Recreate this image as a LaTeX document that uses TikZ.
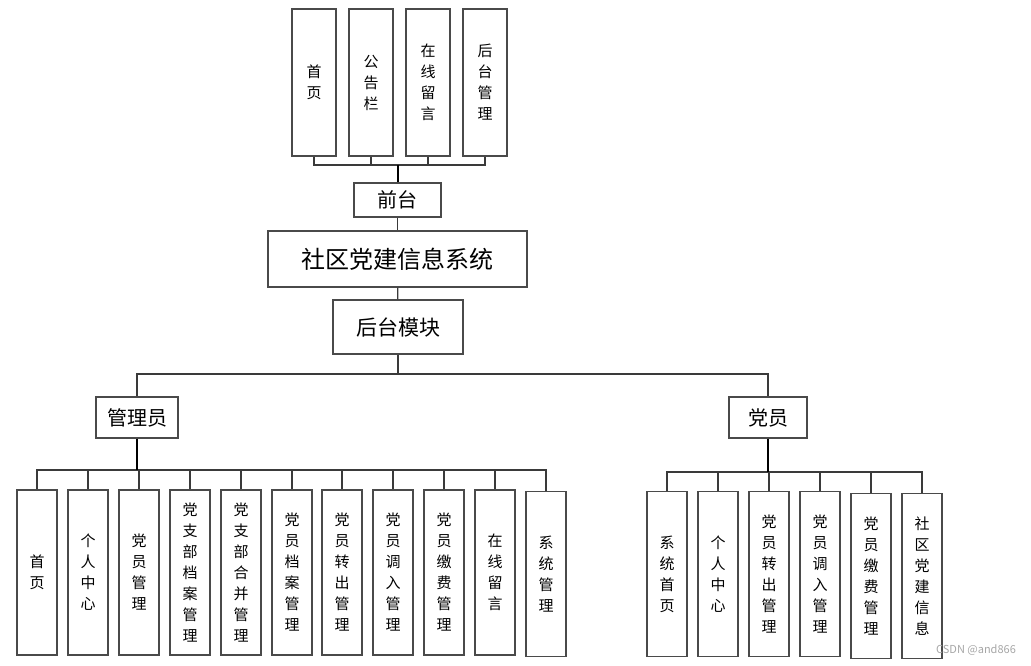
\documentclass[tikz,border=0pt]{standalone}
\usepackage{fontspec}
\setmainfont{Noto Sans CJK SC}
\usetikzlibrary{positioning}
\usepackage{xcolor}
\definecolor{boxline}{HTML}{4A4A4A}
\definecolor{wireline}{HTML}{3A3A3A}

\begin{document}
\begin{tikzpicture}[
  x=1pt, y=-1pt,
  box/.style={draw=boxline, line width=1.4pt, fill=white, inner sep=0pt, align=center},
  colbox/.style={box, minimum width=44pt, minimum height=147pt, font=\fontsize{15}{21}\selectfont},
  leafbox/.style={box, minimum width=40pt, minimum height=165pt, font=\fontsize{15}{21}\selectfont},
  wire/.style={draw=wireline, line width=1.2pt},
  trunk/.style={draw=black, line width=2pt}
]
\useasboundingbox (0,0) rectangle (1031,665);

% front pages
\node[colbox] (f1) at (314,82.5) {首\\页};
\node[colbox] (f2) at (371,82.5) {公\\告\\栏};
\node[colbox] (f3) at (428,82.5) {在\\线\\留\\言};
\node[colbox] (f4) at (485,82.5) {后\\台\\管\\理};

\node[box, minimum width=87pt, minimum height=34pt, font=\fontsize{20}{20}\selectfont] (front) at (397.5,200) {前台};
\node[box, minimum width=259pt, minimum height=56pt, font=\fontsize{24}{24}\selectfont] (sys) at (397.5,259) {社区党建信息系统};
\node[box, minimum width=130pt, minimum height=54pt, font=\fontsize{21}{21}\selectfont] (back) at (398,327) {后台模块};

\node[box, minimum width=82pt, minimum height=41pt, font=\fontsize{20}{20}\selectfont] (admin) at (137,417.5) {管理员};
\node[box, minimum width=78pt, minimum height=41pt, font=\fontsize{20}{20}\selectfont] (member) at (768,417.5) {党员};

% admin leaves
\node[leafbox] (a1) at (37,572.5) {首\\页};
\node[leafbox] (a2) at (88,572.5) {个\\人\\中\\心};
\node[leafbox] (a3) at (139,572.5) {党\\员\\管\\理};
\node[leafbox] (a4) at (190,572.5) {党\\支\\部\\档\\案\\管\\理};
\node[leafbox] (a5) at (241,572.5) {党\\支\\部\\合\\并\\管\\理};
\node[leafbox] (a6) at (292,572.5) {党\\员\\档\\案\\管\\理};
\node[leafbox] (a7) at (342,572.5) {党\\员\\转\\出\\管\\理};
\node[leafbox] (a8) at (393,572.5) {党\\员\\调\\入\\管\\理};
\node[leafbox] (a9) at (444,572.5) {党\\员\\缴\\费\\管\\理};
\node[leafbox] (a10) at (495,572.5) {在\\线\\留\\言};
\node[leafbox] (a11) at (546,574) {系\\统\\管\\理};

% member leaves
\node[leafbox] (m1) at (667,574) {系\\统\\首\\页};
\node[leafbox] (m2) at (718,574) {个\\人\\中\\心};
\node[leafbox] (m3) at (769,574) {党\\员\\转\\出\\管\\理};
\node[leafbox] (m4) at (820,574) {党\\员\\调\\入\\管\\理};
\node[leafbox] (m5) at (871,576) {党\\员\\缴\\费\\管\\理};
\node[leafbox] (m6) at (922,576) {社\\区\\党\\建\\信\\息};

\node[font=\fontsize{11}{11}\selectfont, text=black!35] (mark) at (976,650) {CSDN @and866};

\coordinate (topbus) at (398,165);
\coordinate (midbus) at (398,374);
\coordinate (adminbus) at (137,470);
\coordinate (memberbus) at (768,472);

% front connectors
\draw[wire] (f1.south) -- (f1.south |- topbus) -- (f4.south |- topbus) -- (f4.south);
\draw[wire] (f2.south) -- (f2.south |- topbus);
\draw[wire] (f3.south) -- (f3.south |- topbus);
\draw[trunk] (front.north) -- (front.north |- topbus);
\draw[wire] (front) -- (sys);
\draw[wire] (sys) -- (back);

% roles
\draw[wire] (back.south) -- (back.south |- midbus);
\draw[wire] (admin.north) |- (member.north |- midbus) -- (member.north);

% admin bus
\draw[wire] (a1.north) |- (a11.north |- adminbus) -- (a11.north);
\draw[wire] (a2.north) -- (a2.north |- adminbus);
\draw[wire] (a3.north) -- (a3.north |- adminbus);
\draw[wire] (a4.north) -- (a4.north |- adminbus);
\draw[wire] (a5.north) -- (a5.north |- adminbus);
\draw[wire] (a6.north) -- (a6.north |- adminbus);
\draw[wire] (a7.north) -- (a7.north |- adminbus);
\draw[wire] (a8.north) -- (a8.north |- adminbus);
\draw[wire] (a9.north) -- (a9.north |- adminbus);
\draw[wire] (a10.north) -- (a10.north |- adminbus);
\draw[trunk] (admin.south) -- (adminbus);

% member bus
\draw[wire] (m1.north) |- (m6.north |- memberbus) -- (m6.north);
\draw[wire] (m2.north) -- (m2.north |- memberbus);
\draw[wire] (m3.north) -- (m3.north |- memberbus);
\draw[wire] (m4.north) -- (m4.north |- memberbus);
\draw[wire] (m5.north) -- (m5.north |- memberbus);
\draw[trunk] (member.south) -- (memberbus);

\end{tikzpicture}
\end{document}
